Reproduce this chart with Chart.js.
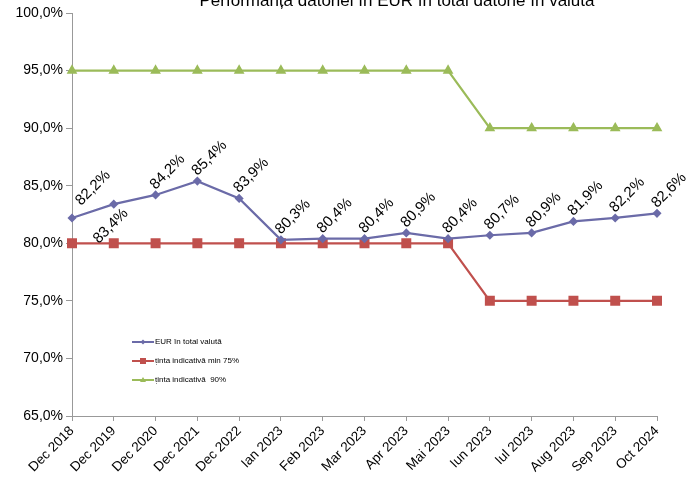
<!DOCTYPE html>
<html><head><meta charset="utf-8">
<script src="https://cdn.jsdelivr.net/npm/chart.js@4/dist/chart.umd.min.js"></script>
<style>html,body{margin:0;padding:0;background:#fff}#w{width:693px;height:481px}</style>
</head><body><div id="w"><canvas id="c"></canvas></div>
<script>
const categories = ["Dec 2018","Dec 2019","Dec 2020","Dec 2021","Dec 2022","Ian 2023","Feb 2023","Mar 2023","Apr 2023","Mai 2023","Iun 2023","Iul 2023","Aug 2023","Sep 2023","Oct 2024"];
const eurShare = [82.2,83.4,84.2,85.4,83.9,80.3,80.4,80.4,80.9,80.4,80.7,80.9,81.9,82.2,82.6];
const targetMin = [80,80,80,80,80,80,80,80,80,80,75,75,75,75,75];
const targetMax = [95,95,95,95,95,95,95,95,95,95,90,90,90,90,90];
const seriesNames = ["EUR în total valută","ținta indicativă min 75%","ținta indicativă  90%"];
const yTicks = [65,70,75,80,85,90,95,100];
const title = "Performanța datoriei în EUR în total datorie în valută";

const FONT = "'Liberation Sans', Arial, sans-serif";
const fmt = v => v.toFixed(1).replace('.', ',') + '%';

const labelPlugin = {
  id: 'labels',
  afterDatasetsDraw(chart) {
    const ctx = chart.ctx;
    const meta = chart.getDatasetMeta(0);
    ctx.save();
    ctx.font = "15px " + FONT;
    ctx.fillStyle = '#000';
    ctx.textAlign = 'center';
    ctx.textBaseline = 'middle';
    meta.data.forEach((pt, i) => {
      let dx = 12, dy = -23;
      if (i === 0) { dx = 21; dy = -30; }
      if (i === 1) { dx = -3; dy = 22; }
      ctx.save();
      ctx.translate(pt.x + dx, pt.y + dy);
      ctx.rotate(-Math.PI / 4);
      ctx.fillText(fmt(eurShare[i]), 0, 0);
      ctx.restore();
    });
    // title (partially cut at top)
    ctx.font = "17px " + FONT;
    ctx.textAlign = 'center';
    ctx.textBaseline = 'alphabetic';
    ctx.fillText(title, 397, 6);
    // legend
    ctx.font = "8px " + FONT;
    ctx.textAlign = 'left';
    ctx.textBaseline = 'middle';
    const lx = 132, ly = [342, 361, 380];
    chart.data.datasets.forEach((ds, i) => {
      const y = ly[i];
      ctx.strokeStyle = ds.borderColor;
      ctx.lineWidth = 2;
      ctx.beginPath(); ctx.moveTo(lx, y); ctx.lineTo(lx + 22, y); ctx.stroke();
      ctx.fillStyle = ds.borderColor;
      const cx = lx + 11;
      ctx.beginPath();
      if (i === 0) { ctx.moveTo(cx, y-2.5); ctx.lineTo(cx+2.5, y); ctx.lineTo(cx, y+2.5); ctx.lineTo(cx-2.5, y); }
      else if (i === 1) { ctx.rect(cx-3, y-3, 6, 6); }
      else { ctx.moveTo(cx, y-3); ctx.lineTo(cx+3, y+2); ctx.lineTo(cx-3, y+2); }
      ctx.closePath(); ctx.fill();
      ctx.fillStyle = '#000';
      ctx.fillText(ds.label, lx + 23, y);
    });
    ctx.restore();
  }
};

new Chart(document.getElementById('c'), {
  type: 'line',
  data: {
    labels: categories,
    datasets: [
      { label: seriesNames[0], data: eurShare, borderColor: '#6B6BA8', backgroundColor: '#6B6BA8', borderWidth: 2.2, pointStyle: 'rectRot', pointRadius: 3, tension: 0 },
      { label: seriesNames[1], data: targetMin, borderColor: '#C0504D', backgroundColor: '#C0504D', borderWidth: 2.2, pointStyle: 'rect', pointRadius: 5.5, tension: 0 },
      { label: seriesNames[2], data: targetMax, borderColor: '#9BBB59', backgroundColor: '#9BBB59', borderWidth: 2.2, pointStyle: 'triangle', pointRadius: 4, tension: 0 }
    ]
  },
  options: {
    responsive: true, maintainAspectRatio: false, animation: false,
    layout: { padding: { top: 13, right: 36, left: 0, bottom: 0 } },
    plugins: { legend: { display: false }, title: { display: false }, tooltip: { enabled: false } },
    scales: {
      x: {
        offset: false,
        grid: { drawOnChartArea: false, drawTicks: true, tickLength: 5, color: '#999' },
        border: { color: '#999', width: 1 },
        ticks: { color: '#000', font: { family: FONT, size: 13.5 }, maxRotation: 45, minRotation: 45, autoSkip: false, padding: 2 },
        afterFit(s) { s.height = 65; }
      },
      y: {
        min: 65, max: 100,
        afterBuildTicks(s) { s.ticks = yTicks.map(v => ({ value: v })); },
        grid: { drawOnChartArea: false, drawTicks: true, tickLength: 6, color: '#999' },
        border: { color: '#999', width: 1 },
        ticks: { color: '#000', font: { family: FONT, size: 14 }, callback: v => fmt(v), padding: 3 },
        afterFit(s) { s.width = 72; }
      }
    }
  },
  plugins: [labelPlugin]
});
</script>
</body></html>
